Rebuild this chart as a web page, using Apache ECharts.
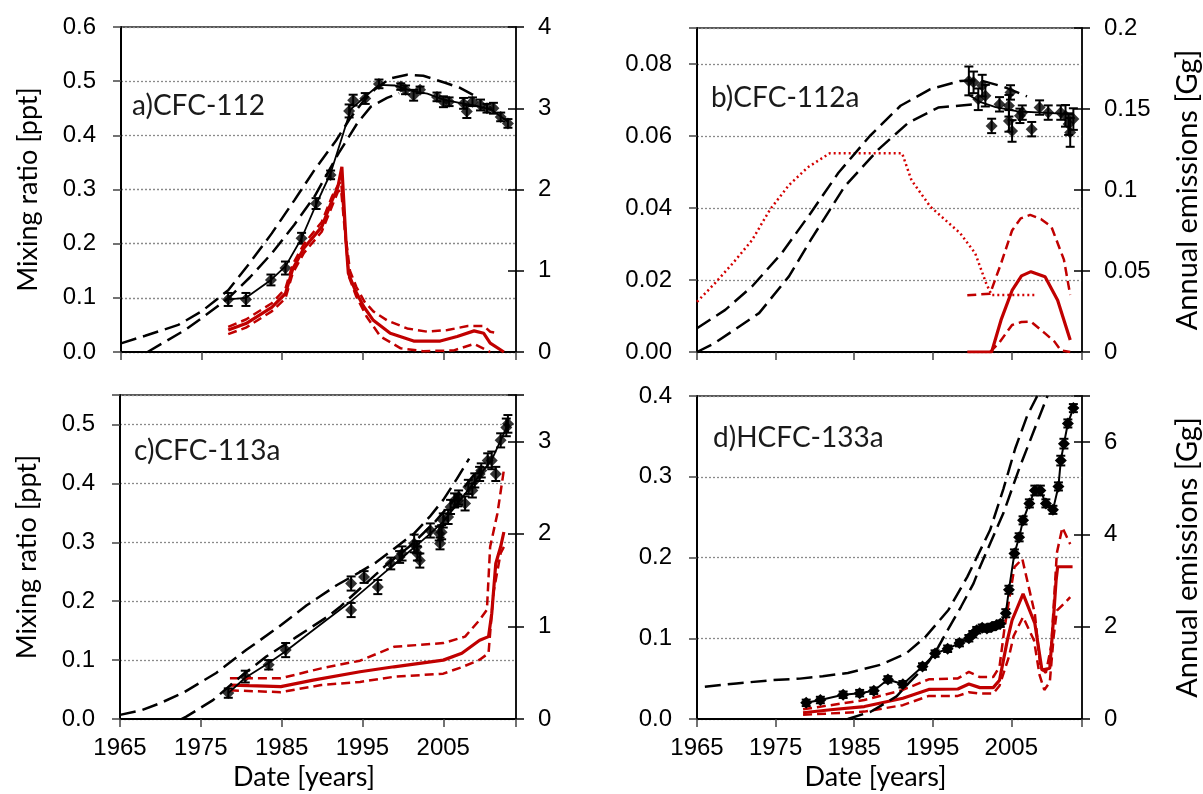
<!DOCTYPE html>
<html><head><meta charset="utf-8">
<script src="https://cdn.jsdelivr.net/npm/echarts@6/dist/echarts.min.js"></script>
<style>html,body{margin:0;padding:0;background:#fff}#c{width:1203px;height:794px}</style>
</head><body><div id="c"></div><script>
// ---------- Panel a: CFC-112 ----------
const aObs = [[1978.3,0.097],[1980.5,0.097],[1983.6,0.133],[1985.4,0.155],[1987.4,0.21],[1989.2,0.274],[1991.0,0.327],[1993.3,0.445],[1993.8,0.465],[1995.3,0.468],[1997.0,0.495],[1999.7,0.49],[2000.3,0.484],[2001.3,0.474],[2002.1,0.484],[2004.2,0.471],[2005.0,0.462],[2005.7,0.462],[2007.5,0.459],[2007.9,0.444],[2008.6,0.462],[2009.6,0.456],[2010.4,0.45],[2011.2,0.45],[2012.1,0.434],[2013.0,0.422]];
const aErr = [0.012,0.012,0.01,0.012,0.01,0.01,0.008,0.012,0.01,0.01,0.008,0.006,0.008,0.01,0.006,0.008,0.01,0.008,0.01,0.012,0.008,0.01,0.008,0.01,0.008,0.008];
const aFit = [[1978.3,0.097],[1980.5,0.1],[1983.6,0.133],[1985.4,0.158],[1987.4,0.21],[1989.2,0.272],[1991.0,0.33],[1992.5,0.4],[1993.5,0.448],[1995,0.468],[1997,0.493],[1999,0.492],[2001,0.482],[2003,0.477],[2005,0.466],[2007,0.46],[2009,0.455],[2011,0.447],[2013,0.425]];
const aHi = [[1965,0.016],[1968,0.03],[1972.1,0.05],[1975,0.075],[1978.3,0.114],[1981,0.165],[1983.7,0.219],[1986.5,0.28],[1989.0,0.336],[1991.7,0.391],[1993.4,0.431],[1995,0.462],[1996.5,0.485],[1998.4,0.505],[2000.5,0.512],[2002.5,0.51],[2005.2,0.497],[2007,0.488],[2009,0.472]];
const aLo = [[1968.3,0],[1970,0.015],[1973,0.041],[1975.5,0.068],[1978.3,0.099],[1981,0.138],[1983.7,0.182],[1986.5,0.235],[1989,0.287],[1992,0.367],[1994.3,0.422],[1996,0.453],[1998,0.469],[1999.5,0.478]];
const aEm = [[1978.3,0.27],[1980.5,0.35],[1983.7,0.55],[1985.4,0.72],[1986.3,1.02],[1987.7,1.28],[1989.9,1.54],[1991.2,1.87],[1991.9,2.03],[1992.4,2.28],[1992.9,1.38],[1993.2,0.97],[1994.05,0.76],[1995.1,0.56],[1996.3,0.39],[1998.4,0.23],[2001.3,0.135],[2004.6,0.135],[2006.7,0.19],[2008.8,0.26],[2010.0,0.23],[2010.8,0.11],[2012.5,0]];
const aEmHi = [[1978.3,0.31],[1980.5,0.4],[1983.7,0.6],[1985.4,0.78],[1986.3,1.08],[1987.7,1.33],[1989.9,1.6],[1991.2,1.92],[1991.9,2.05],[1992.3,2.1],[1992.9,1.4],[1993.4,1.0],[1994.2,0.8],[1995.2,0.62],[1996.3,0.5],[1998.0,0.39],[2000.5,0.29],[2003.0,0.25],[2005.5,0.27],[2008.0,0.32],[2010.0,0.32],[2010.8,0.25],[2011.9,0.23]];
const aEmLo = [[1978.3,0.22],[1980.5,0.3],[1983.7,0.5],[1985.4,0.66],[1986.3,0.97],[1987.7,1.22],[1989.9,1.48],[1991.2,1.8],[1991.9,1.97],[1992.3,2.0],[1992.9,1.35],[1993.3,0.92],[1994.2,0.68],[1995.5,0.43],[1997.2,0.19],[1999.7,0.045],[2002.5,0.01],[2006.3,0.02],[2008.8,0.1],[2010.4,0.02],[2010.8,0]];

// ---------- Panel b: CFC-112a ----------
const bObs = [[1999.6,0.0753],[2000.2,0.0749],[2000.8,0.0702],[2001.3,0.074],[2001.7,0.0712],[2002.5,0.0628],[2003.5,0.0688],[2004.7,0.0684],[2004.9,0.0721],[2004.7,0.0642],[2005.1,0.0614],[2006.1,0.0656],[2006.4,0.0665],[2007.6,0.0619],[2008.6,0.0679],[2009.7,0.0665],[2011.3,0.0665],[2011.9,0.0656],[2012.3,0.0633],[2012.5,0.061],[2012.9,0.0647]];
const bErr = [0.004,0.003,0.003,0.003,0.003,0.002,0.002,0.003,0.002,0.003,0.003,0.002,0.002,0.002,0.002,0.002,0.002,0.003,0.003,0.004,0.003];
const bFit = [[1999.5,0.0715],[2001,0.0695],[2003,0.068],[2006,0.0668],[2009,0.0665],[2013,0.066]];
const bHi = [[1965,0.0066],[1968.6,0.0117],[1972,0.0182],[1975.8,0.0275],[1979.5,0.0387],[1983,0.0498],[1987,0.06],[1990.9,0.0684],[1994.7,0.073],[1998.5,0.0753],[2001,0.0755],[2004,0.0737],[2007,0.071]];
const bLo = [[1965,0],[1967.2,0.0024],[1972.9,0.0108],[1976.7,0.021],[1979.5,0.0312],[1983.8,0.046],[1988.1,0.0563],[1991.9,0.0637],[1995.7,0.0679],[2000.4,0.0688]];
const bDot = [[1965,0.031],[1967.2,0.042],[1969.6,0.055],[1972,0.069],[1974.3,0.088],[1976.7,0.103],[1979.1,0.114],[1981.9,0.1227],[1991.1,0.1227],[1992.3,0.106],[1994.7,0.0897],[1998.5,0.0733],[2000.4,0.061],[2001.8,0.0424],[2002.5,0.0352],[2008.2,0.0352]];
const bEm = [[1999.4,0],[2002.5,0],[2003.7,0.0198],[2005.1,0.038],[2006.3,0.047],[2007.5,0.0496],[2009.3,0.0465],[2010.9,0.032],[2012.5,0.0074]];
const bEmHi = [[1999.4,0.035],[2002.3,0.036],[2003.7,0.0547],[2005.1,0.075],[2006.2,0.0825],[2007.4,0.0846],[2008.8,0.082],[2010.1,0.0774],[2011.7,0.057],[2012.5,0.0352]];
const bEmLo = [[2002.3,0],[2003.5,0.006],[2005.1,0.0167],[2006.3,0.0185],[2007.5,0.0187],[2009.3,0.0115],[2010.5,0.0064],[2011.3,0.001],[2012.5,0]];

// ---------- Panel c: CFC-113a ----------
const cObs = [[1978.4,0.044],[1980.5,0.072],[1983.4,0.092],[1985.5,0.117],[1993.6,0.185],[1993.6,0.23],[1995.2,0.241],[1996.9,0.224],[1998.5,0.264],[1999.6,0.275],[1999.9,0.281],[2001.4,0.298],[2001.7,0.292],[2001.8,0.281],[2002.1,0.269],[2003.4,0.32],[2004.5,0.315],[2004.6,0.298],[2004.8,0.317],[2005.0,0.337],[2005.6,0.343],[2005.9,0.36],[2006.4,0.371],[2006.8,0.371],[2006.9,0.376],[2007.7,0.366],[2008.1,0.394],[2008.6,0.388],[2008.9,0.405],[2009.5,0.416],[2009.7,0.422],[2010.5,0.439],[2011.0,0.439],[2011.5,0.416],[2012.1,0.473],[2012.8,0.495],[2013.0,0.501]];
const cErr = [0.008,0.01,0.008,0.012,0.012,0.012,0.01,0.012,0.01,0.01,0.012,0.015,0.01,0.012,0.012,0.012,0.012,0.01,0.012,0.012,0.012,0.012,0.012,0.01,0.012,0.012,0.012,0.012,0.012,0.012,0.012,0.012,0.015,0.012,0.012,0.015,0.015];
const cFit = [[1978.4,0.044],[1980.5,0.07],[1983.4,0.095],[1985.5,0.115],[1989,0.152],[1993.6,0.2],[1997,0.24],[2000,0.275],[2003,0.31],[2005,0.335],[2007,0.37],[2009,0.405],[2011,0.44],[2013,0.5]];
const cHi = [[1965,0.007],[1967.7,0.015],[1970,0.027],[1973,0.046],[1976.9,0.078],[1980.6,0.117],[1984.4,0.154],[1988.1,0.193],[1991.8,0.227],[1994.5,0.248],[1996.7,0.266],[1999,0.29],[2001.4,0.315],[2003.3,0.343],[2005,0.372],[2006.7,0.408],[2008.2,0.442]];
const cLo = [[1972.6,0],[1973.2,0.004],[1976.5,0.032],[1979.4,0.066],[1983.1,0.106],[1986.8,0.139],[1990.6,0.173],[1992.2,0.19],[1995,0.225],[1998,0.262],[2001,0.295],[2004,0.335],[2006.5,0.375],[2009.4,0.425]];
const cEm = [[1978.6,0.367],[1981,0.36],[1984.9,0.35],[1988.9,0.42],[1994.7,0.51],[1998.9,0.564],[2005.0,0.636],[2007.3,0.71],[2009.5,0.85],[2010.6,0.89],[2011.0,1.14],[2011.5,1.68],[2012.1,1.86],[2012.5,2.02]];
const cEmHi = [[1978.6,0.44],[1984.9,0.44],[1989.9,0.547],[1994.7,0.63],[1998.9,0.78],[2005.0,0.82],[2007.7,0.89],[2009.5,1.07],[2010.4,1.18],[2010.8,1.86],[2011.7,2.22],[2012.5,2.69]];
const cEmLo = [[1978.6,0.31],[1984.9,0.29],[1989.9,0.367],[1994.7,0.4],[1998.9,0.456],[2005.0,0.49],[2007.3,0.56],[2009.5,0.64],[2010.6,0.71],[2011.2,1.36],[2012.1,1.79],[2012.5,1.86]];

// ---------- Panel d: HCFC-133a ----------
const dObs = [[1978.9,0.020],[1980.7,0.0235],[1983.6,0.030],[1985.7,0.032],[1987.5,0.035],[1989.3,0.049],[1991.2,0.043],[1993.7,0.065],[1995.3,0.081],[1996.9,0.087],[1998.4,0.094],[1999.6,0.10],[2000.1,0.105],[2000.6,0.11],[2001.3,0.113],[2001.9,0.112],[2002.5,0.114],[2003.1,0.116],[2003.6,0.118],[2004.3,0.131],[2004.7,0.16],[2005.4,0.205],[2006.0,0.225],[2006.5,0.246],[2007.3,0.267],[2008.0,0.283],[2008.7,0.283],[2009.4,0.267],[2010.3,0.259],[2011.0,0.288],[2011.3,0.32],[2011.7,0.341],[2012.2,0.366],[2012.9,0.385]];
const dErr = [0.004,0.004,0.004,0.004,0.004,0.004,0.004,0.004,0.004,0.004,0.004,0.004,0.004,0.004,0.004,0.004,0.004,0.004,0.004,0.005,0.005,0.005,0.005,0.005,0.005,0.006,0.006,0.005,0.005,0.005,0.006,0.006,0.005,0.005];
const dHi = [[1966,0.040],[1970,0.044],[1974.4,0.048],[1978.1,0.050],[1981,0.053],[1984.2,0.057],[1988.3,0.067],[1991.6,0.081],[1994.1,0.102],[1997.0,0.135],[1999.4,0.176],[2002.3,0.234],[2004,0.285],[2005.5,0.335],[2007,0.375],[2008.3,0.4]];
const dLo = [[1984.2,0.0],[1987.1,0.009],[1990.4,0.028],[1992,0.045],[1993.2,0.057],[1994.5,0.071],[1995.7,0.089],[1996.9,0.11],[1998.6,0.139],[2000.2,0.168],[2001,0.188],[2002.3,0.217],[2004,0.255],[2006,0.31],[2008,0.36],[2009.6,0.4]];
const dEm = [[1978.5,0.136],[1982,0.2],[1986.3,0.27],[1991.2,0.45],[1994.5,0.64],[1998.2,0.65],[1999.6,0.76],[2001.0,0.68],[2002.7,0.68],[2003.5,0.84],[2004.5,1.71],[2005.1,2.14],[2006.5,2.71],[2008.0,2.07],[2008.9,1.06],[2009.9,1.1],[2010.3,2.0],[2010.7,3.0],[2010.9,3.3],[2012.8,3.3]];
const dEmHi = [[1978.5,0.21],[1986.3,0.41],[1991.2,0.63],[1994.5,0.86],[1998.2,0.88],[1999.6,1.02],[2001.0,0.91],[2002.7,0.91],[2003.5,1.13],[2004.1,1.92],[2005.4,3.29],[2006.4,3.47],[2008.0,2.28],[2008.7,1.13],[2009.4,1.0],[2010.1,1.6],[2010.8,3.6],[2011.5,4.15],[2012.5,3.79]];
const dEmLo = [[1978.5,0.09],[1986.3,0.16],[1991.2,0.30],[1994.5,0.50],[1998.2,0.50],[1999.6,0.58],[2001.0,0.55],[2002.7,0.55],[2003.5,0.72],[2004.7,1.35],[2005.3,1.8],[2006.5,2.21],[2007.9,1.7],[2008.6,0.95],[2009.2,0.63],[2009.9,0.8],[2010.4,1.8],[2010.8,2.35],[2011.7,2.5],[2012.5,2.64]];

const panelLabels = ['a)CFC-112','b)CFC-112a','c)CFC-113a','d)HCFC-133a'];
const xTicks = [1965,1975,1985,1995,2005];

// ---------- layout/styles ----------
const RED = '#C00000';
const grids = [
  {left:121, top:27, width:395, height:325},
  {left:697, top:28, width:399, height:324},
  {left:120, top:395, width:396, height:324},
  {left:697, top:396, width:398, height:323}
];
const leftScale = [
  {min:0, max:0.6, interval:0.1, fmt:v=>v.toFixed(1)},
  {min:0, max:0.09, interval:0.02, fmt:v=>v>0.085?'':v.toFixed(2)},
  {min:0, max:0.55, interval:0.1, fmt:v=>v>0.52?'':v.toFixed(1)},
  {min:0, max:0.4, interval:0.1, fmt:v=>v.toFixed(1)}
];
const rightScale = [
  {min:0, max:4, interval:1, fmt:v=>String(v)},
  {min:0, max:0.2, interval:0.05, fmt:v=>String(+v.toFixed(2))},
  {min:0, max:3.5, interval:1, fmt:v=>v>3.2?'':String(v)},
  {min:0, max:7, interval:2, fmt:v=>v>6.5?'':String(v)}
];
const TICKFONT = {fontFamily:'Liberation Sans', fontSize:24, color:'#000'};
const NAMEFONT = {fontFamily:'Lato', fontSize:27, color:'#000'};

const xAxis = [], yAxis = [];
grids.forEach((g,i)=>{
  xAxis.push({
    type:'value', gridIndex:i, min:1965, max:2014, interval:10,
    axisLine:{show:true, onZero:false, lineStyle:{color:'#000', width:2}},
    axisTick:{show:true, length:8, lineStyle:{color:'#444', width:1.5}},
    splitLine:{show:false},
    axisLabel:{show:i>=2, margin:17, ...TICKFONT, formatter:v=>xTicks.includes(Math.round(v))?String(Math.round(v)):''},
    name: i>=2 ? 'Date [years]' : '', nameLocation:'middle', nameGap:45,
    nameTextStyle:{...NAMEFONT, fontSize:27, padding:[0,28,0,0]}
  });
  const L = leftScale[i], R = rightScale[i];
  yAxis.push({
    type:'value', gridIndex:i, position:'left', min:L.min, max:L.max, interval:L.interval,
    axisLine:{show:true, onZero:false, lineStyle:{color:'#000', width:2}},
    axisTick:{show:true, length:8, lineStyle:{color:'#444', width:1.5}},
    splitLine:{show:true, lineStyle:{color:'#8a8a8a', width:1.3, type:[2,2]}},
    axisLabel:{margin:25, ...TICKFONT, formatter:L.fmt},
    name:(i===0||i===2)?'Mixing ratio [ppt]':'', nameLocation:'middle', nameGap:79, nameTextStyle:NAMEFONT
  });
  yAxis.push({
    type:'value', gridIndex:i, position:'right', min:R.min, max:R.max, interval:R.interval,
    axisLine:{show:true, onZero:false, lineStyle:{color:'#000', width:1.5}},
    axisTick:{show:true, length:8, lineStyle:{color:'#000', width:1.5}},
    splitLine:{show:false},
    axisLabel:{margin:22, ...TICKFONT, formatter:R.fmt},
    name:(i===1||i===3)?'Annual emissions [Gg]':'', nameLocation:'middle', nameGap:91,
    nameTextStyle:{...NAMEFONT, fontSize:29}
  });
  yAxis.push({
    type:'value', gridIndex:i, position:'right', min:R.min, max:R.max, interval:R.interval,
    axisLine:{show:false}, axisTick:{show:true, inside:true, length:8, lineStyle:{color:'#000', width:1.5}},
    splitLine:{show:false}, axisLabel:{show:false}
  });
});

function line(data, gi, right, style){
  return Object.assign({type:'line', data, xAxisIndex:gi, yAxisIndex:gi*3+(right?1:0),
    showSymbol:false, symbol:'none', silent:true, animation:false}, style);
}
const blackDash = {lineStyle:{color:'#000', width:2.5, type:[16,7]}};
const redSolid = {lineStyle:{color:RED, width:3.2}};
const redDash = {lineStyle:{color:RED, width:2.5, type:[9,5]}};
const blackThin = {lineStyle:{color:'#000', width:1.8}};

function errRender(params, api){
  const x = api.value(0), lo = api.value(1), hi = api.value(2);
  const p1 = api.coord([x, lo]), p2 = api.coord([x, hi]);
  const w = 4.5, st = {stroke:'#000', lineWidth:2};
  return {type:'group', children:[
    {type:'line', shape:{x1:p1[0],y1:p1[1],x2:p2[0],y2:p2[1]}, style:st},
    {type:'line', shape:{x1:p1[0]-w,y1:p1[1],x2:p1[0]+w,y2:p1[1]}, style:st},
    {type:'line', shape:{x1:p2[0]-w,y1:p2[1],x2:p2[0]+w,y2:p2[1]}, style:st}
  ]};
}
function errSeries(obs, err, gi){
  return {type:'custom', xAxisIndex:gi, yAxisIndex:gi*3, renderItem:errRender, animation:false, silent:true,
    encode:{x:0, y:[1,2]}, data:obs.map((p,k)=>[p[0], p[1]-err[k], p[1]+err[k]])};
}
function obsSeries(obs, gi, connect){
  return {type: connect?'line':'scatter', data:obs, xAxisIndex:gi, yAxisIndex:gi*3, symbol:'diamond', symbolSize:12,
    showSymbol:true, itemStyle:{color:'#000'}, lineStyle:{color:'#000', width:2}, animation:false, silent:true};
}

const series = [
  // a
  line(aEmHi,0,true,redDash), line(aEmLo,0,true,redDash), line(aEm,0,true,redSolid),
  line(aHi,0,false,blackDash), line(aLo,0,false,blackDash), line(aFit,0,false,blackThin),
  errSeries(aObs,aErr,0), obsSeries(aObs,0,false),
  // b
  line(bDot,1,true,{lineStyle:{color:'#D40000', width:2.5, type:[2,3]}}),
  line(bEmHi,1,true,redDash), line(bEmLo,1,true,redDash), line(bEm,1,true,redSolid),
  line(bHi,1,false,blackDash), line(bLo,1,false,blackDash), line(bFit,1,false,blackThin),
  errSeries(bObs,bErr,1), obsSeries(bObs,1,false),
  // c
  line(cEmHi,2,true,redDash), line(cEmLo,2,true,redDash), line(cEm,2,true,redSolid),
  line(cHi,2,false,blackDash), line(cLo,2,false,blackDash), line(cFit,2,false,blackThin),
  errSeries(cObs,cErr,2), obsSeries(cObs,2,false),
  // d
  line(dEmHi,3,true,redDash), line(dEmLo,3,true,redDash), line(dEm,3,true,redSolid),
  line(dHi,3,false,blackDash), line(dLo,3,false,blackDash),
  errSeries(dObs,dErr,3), obsSeries(dObs,3,true)
];

const labelPos = [[132,92],[711,84],[134,437],[713,424]];
const graphic = panelLabels.map((t,i)=>({type:'text', left:labelPos[i][0], top:labelPos[i][1], silent:true,
  style:{text:t, font:'28px Lato', fill:'#1a1a1a'}}));

const chart = echarts.init(document.getElementById('c'), null, {renderer:'canvas'});
chart.setOption({
  animation:false,
  backgroundColor:'#fff',
  grid: grids.map(g=>Object.assign({show:true, borderColor:'#222', borderWidth:1.5, backgroundColor:'transparent', containLabel:false}, g)),
  xAxis, yAxis, series, graphic
});
</script></body></html>
